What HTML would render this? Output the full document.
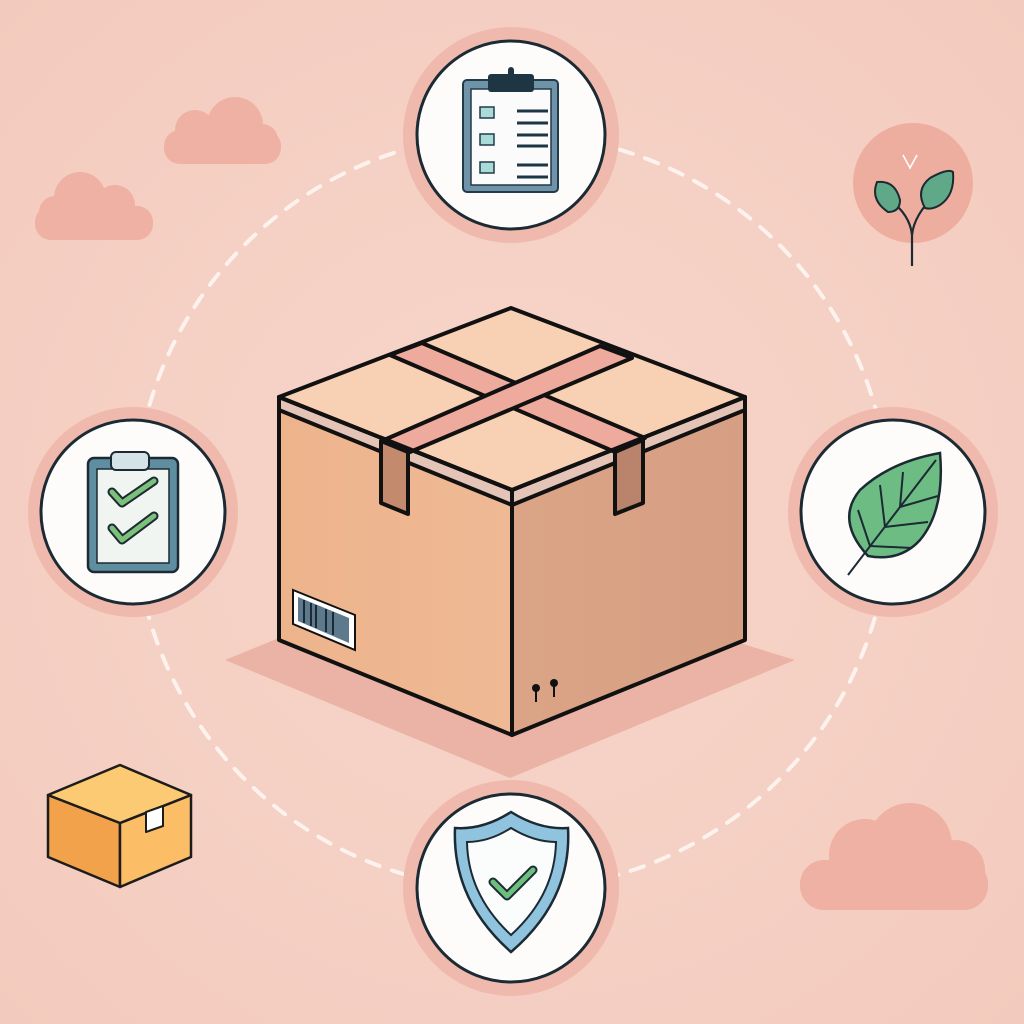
<!DOCTYPE html>
<html><head><meta charset="utf-8"><style>html,body{margin:0;padding:0;background:#f5d0c4}svg{display:block}</style></head>
<body>
<svg width="1024" height="1024" viewBox="0 0 1024 1024" xmlns="http://www.w3.org/2000/svg">
<defs>
<radialGradient id="bg" cx="50%" cy="50%" r="70%"><stop offset="0" stop-color="#f7d6ca"/><stop offset="1" stop-color="#f3cbbe"/></radialGradient>
<linearGradient id="lf" x1="0" y1="0" x2="1" y2="0"><stop offset="0" stop-color="#edb48c"/><stop offset="1" stop-color="#efb995"/></linearGradient>
<linearGradient id="rf" x1="0" y1="0" x2="1" y2="0"><stop offset="0" stop-color="#dba486"/><stop offset="1" stop-color="#d69f84"/></linearGradient>
</defs>
<rect width="1024" height="1024" fill="url(#bg)"/>
<!-- clouds -->
<g fill="#eeb1a3">
<rect x="164" y="130" width="117" height="34" rx="16"/><circle cx="195" cy="130" r="20"/><circle cx="235" cy="125" r="28"/><circle cx="262" cy="140" r="16"/>
<rect x="35" y="206" width="118" height="34" rx="16"/><circle cx="80" cy="198" r="26"/><circle cx="115" cy="205" r="20"/><circle cx="55" cy="212" r="16"/>
<rect x="800" y="860" width="188" height="50" rx="24"/><circle cx="865" cy="855" r="36"/><circle cx="910" cy="845" r="42"/><circle cx="955" cy="870" r="30"/>
</g>
<!-- dashed ring -->
<circle cx="512" cy="512" r="378" fill="none" stroke="#fdf2ee" stroke-width="4" stroke-dasharray="14 13" stroke-linecap="round"/>
<!-- box shadow -->
<polygon points="225,660 470,560 795,660 510,778" fill="#ebb3a6"/>
<!-- main box -->
<g stroke="#111" stroke-width="4" stroke-linejoin="round">
<polygon points="279,397 512,490 512,735 279,640" fill="url(#lf)"/>
<polygon points="512,490 745,397 745,640 512,735" fill="url(#rf)"/>
<polygon points="279,397 512,490 512,505 279,410" fill="#e3c4b6"/>
<polygon points="512,490 745,397 745,410 512,505" fill="#e3c4b6"/>
<polygon points="279,397 511,308 745,397 512,490" fill="#f8d0b4"/>
<polygon points="390,355 422,343 645,438 615,452" fill="#eeaa9c"/>
<polygon points="600,346 632,358 410,452 384,440" fill="#eeaa9c"/>
<polygon points="381,441 408,452 408,514 381,503" fill="#c38a6e"/>
<polygon points="615,452 643,440 643,503 615,514" fill="#b9846b"/>
</g>
<polyline points="279,397 512,490 745,397" fill="none" stroke="#111" stroke-width="4"/>
<!-- barcode -->
<polygon points="293,590 355,615 355,650 293,624" fill="#fff" stroke="#111" stroke-width="2"/>
<polygon points="298,597 349,618 349,643 298,621" fill="#5c7a8c"/>
<g stroke="#1b2a36" stroke-width="2"><line x1="304" y1="600" x2="304" y2="623"/><line x1="311" y1="603" x2="311" y2="626"/><line x1="316" y1="605" x2="316" y2="628"/><line x1="326" y1="609" x2="326" y2="632"/><line x1="333" y1="612" x2="333" y2="635"/></g>
<g fill="#111"><circle cx="536" cy="688" r="4"/><rect x="535" y="688" width="2" height="14"/><circle cx="554" cy="683" r="4"/><rect x="553" y="683" width="2" height="14"/></g>
<!-- icon circles -->
<g><circle cx="511" cy="135" r="108" fill="#f0b9ad"/><circle cx="511" cy="135" r="94" fill="#fdfcfb" stroke="#1c2a33" stroke-width="3"/>
<rect x="463" y="80" width="95" height="112" rx="4" fill="#6f93a8" stroke="#233a48" stroke-width="2"/><rect x="471" y="89" width="80" height="96" fill="#fbfbfb" stroke="#233a48" stroke-width="1.5"/>
<rect x="488" y="74" width="46" height="18" rx="3" fill="#1e3644"/><rect x="508" y="67" width="6" height="10" rx="3" fill="#1e3644"/>
<g fill="#a9dcd8" stroke="#233a48" stroke-width="1.5"><rect x="480" y="107" width="14" height="11"/><rect x="480" y="134" width="14" height="11"/><rect x="480" y="162" width="14" height="11"/></g>
<g stroke="#1e3644" stroke-width="3"><line x1="517" y1="111" x2="548" y2="111"/><line x1="517" y1="123" x2="548" y2="123"/><line x1="517" y1="135" x2="548" y2="135"/><line x1="517" y1="146" x2="548" y2="146"/><line x1="517" y1="165" x2="548" y2="165"/><line x1="517" y1="177" x2="548" y2="177"/></g></g>
<g><circle cx="133" cy="512" r="105" fill="#f0b9ad"/><circle cx="133" cy="512" r="92" fill="#fdfcfb" stroke="#1c2a33" stroke-width="3"/>
<rect x="88" y="458" width="90" height="114" rx="6" fill="#5f8ea0" stroke="#1c2a33" stroke-width="2.5"/><rect x="97" y="469" width="72" height="94" fill="#f1f5f1" stroke="#1c2a33" stroke-width="1.5"/>
<rect x="111" y="452" width="38" height="18" rx="5" fill="#d3e3e8" stroke="#1c2a33" stroke-width="2"/>
<g fill="none" stroke="#1c2a33" stroke-width="9" stroke-linecap="round" stroke-linejoin="round"><polyline points="112,492 122,503 154,481"/><polyline points="112,528 122,540 154,516"/></g>
<g fill="none" stroke="#7cc07a" stroke-width="5" stroke-linecap="round" stroke-linejoin="round"><polyline points="112,492 122,503 154,481"/><polyline points="112,528 122,540 154,516"/></g></g>
<g><circle cx="893" cy="512" r="105" fill="#f0b9ad"/><circle cx="893" cy="512" r="92" fill="#fdfcfb" stroke="#1c2a33" stroke-width="3"/>
<path d="M868 556 Q835 520 860 490 Q890 462 940 453 Q945 510 920 540 Q900 562 868 556 Z" fill="#6dbc84" stroke="#1c2a33" stroke-width="2.5"/>
<g stroke="#1c2a33" stroke-width="2" fill="none"><path d="M848 575 L936 460"/><path d="M870 546 L858 510"/><path d="M885 527 L880 485"/><path d="M900 507 L903 472"/><path d="M870 546 L912 548"/><path d="M885 527 L928 522"/><path d="M900 507 L938 496"/></g></g>
<g><circle cx="511" cy="888" r="108" fill="#f0b9ad"/><circle cx="511" cy="888" r="94" fill="#fdfcfb" stroke="#1c2a33" stroke-width="3"/>
<path d="M511 812 Q540 830 568 828 Q572 900 511 952 Q452 900 455 828 Q483 830 511 812 Z" fill="#8fc3de" stroke="#1c2a33" stroke-width="2.5"/>
<path d="M511 828 Q534 842 556 842 Q555 895 511 935 Q468 895 467 842 Q489 842 511 828 Z" fill="#fbfcfc" stroke="#1c2a33" stroke-width="2"/>
<polyline points="493,882 507,896 533,870" fill="none" stroke="#1c2a33" stroke-width="9" stroke-linecap="round" stroke-linejoin="round"/>
<polyline points="493,882 507,896 533,870" fill="none" stroke="#6cbf7c" stroke-width="5" stroke-linecap="round" stroke-linejoin="round"/></g>
<!-- plant -->
<circle cx="913" cy="183" r="60" fill="#eeae9f"/>
<polyline points="903,155 910,168 917,155" fill="none" stroke="#fff" stroke-width="1.5"/>
<g stroke="#1c2a33" stroke-width="2.2" fill="none"><path d="M912 266 L912 235 Q910 215 890 200"/><path d="M912 235 Q914 215 935 195"/></g>
<g fill="#5fa888" stroke="#1c2a33" stroke-width="2"><path d="M888 212 Q870 200 877 182 Q895 180 900 200 Q900 212 888 212 Z"/><path d="M925 208 Q915 190 930 178 Q948 168 953 172 Q955 195 940 205 Q932 210 925 208 Z"/></g>
<!-- small box -->
<g stroke="#1c1c1c" stroke-width="2.5" stroke-linejoin="round">
<polygon points="48,795 120,823 120,887 48,857" fill="#f1a24a"/>
<polygon points="120,823 191,795 191,857 120,887" fill="#fbbd66"/>
<polygon points="48,795 120,765 191,795 120,823" fill="#fdca74"/>
<polygon points="146,812 163,806 163,826 146,832" fill="#fff" stroke-width="2"/>
</g>
</svg>
</body></html>
